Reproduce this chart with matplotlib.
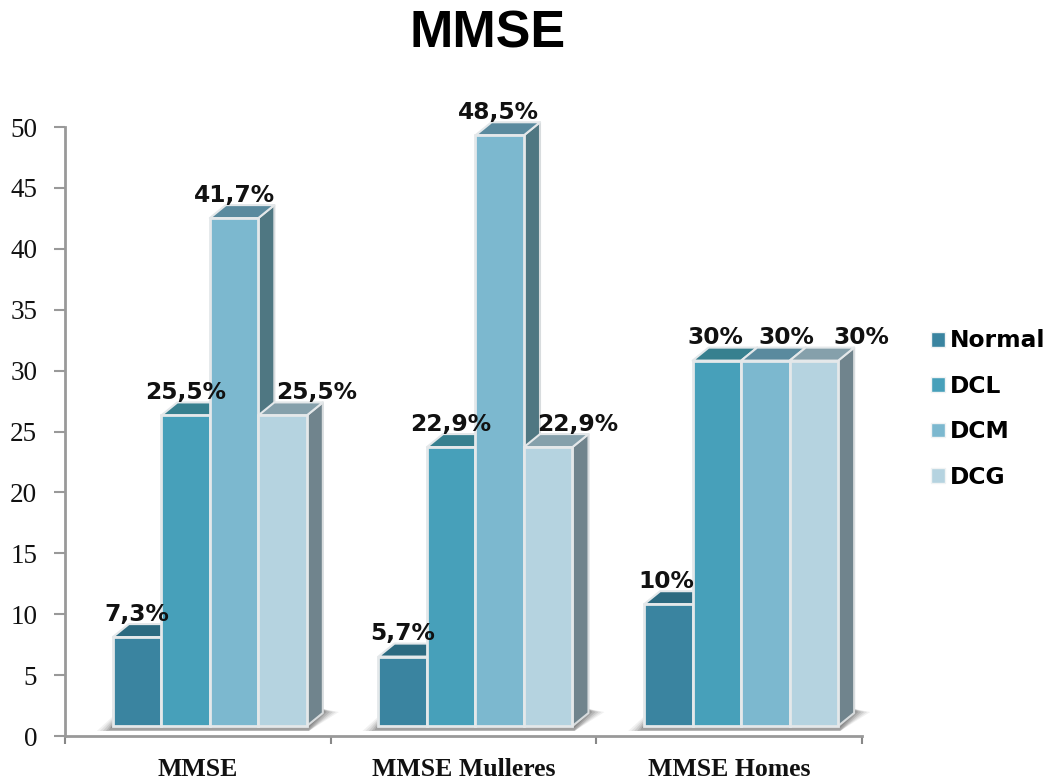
import matplotlib
matplotlib.use("Agg")
import matplotlib.pyplot as plt
from matplotlib.patches import Polygon, Patch

# data
groups = ["MMSE", "MMSE Mulleres", "MMSE Homes"]
series = ["Normal", "DCL", "DCM", "DCG"]
normal = [7.3, 5.7, 10]
dcl = [25.5, 22.9, 30]
dcm = [41.7, 48.5, 30]
dcg = [25.5, 22.9, 30]
normal_labels = ["7,3%", "5,7%", "10%"]
dcl_labels = ["25,5%", "22,9%", "30%"]
dcm_labels = ["41,7%", "48,5%", "30%"]
dcg_labels = ["25,5%", "22,9%", "30%"]

values = [normal, dcl, dcm, dcg]
labels = [normal_labels, dcl_labels, dcm_labels, dcg_labels]

# styles: one per series
front_cols = ["#3A84A0", "#47A0BA", "#7CB8CF", "#B5D3E0"]
top_cols = ["#2C6A80", "#37808F", "#5A8A9E", "#85A0AB"]
side_cols = ["#2A5F72", "#33707F", "#4F7782", "#70848D"]
EDGE = "#E4E8EA"

W, H = 1051, 781
fig = plt.figure(figsize=(W / 100, H / 100), dpi=100)
# axes box in pixels: x 65-862, y 127-736
ax = fig.add_axes([65 / W, 1 - 736 / H, (862 - 65) / W, (736 - 127) / H])
ax.set_xlim(0, 3)
ax.set_ylim(0, 50)

px = 3 / (862 - 65)   # one pixel in x units
py = 50 / (736 - 127)  # one pixel in y units
bar_w = 48.5 * px
dx = 16 * px
dy = 13 * py
base = 10 * py
shift = 12 * px


def poly(pts, **kw):
    ax.add_patch(Polygon(pts, closed=True, clip_on=False, **kw))


# extra label nudges in pixels (labels are not all centred on their bar)
nudge = [[0, 0, -2], [0, -1, -2], [0, -1, 21], [34, 29, 47]]

for g in range(3):
    left = g + 0.5 + shift - 2 * bar_w
    right = left + 4 * bar_w

    # floor shadow, layered to fake the soft edge
    for grow, a in [(16, 0.07), (13, 0.09), (10, 0.12), (7, 0.15), (4, 0.18), (2, 0.22)]:
        low = base - min(grow, 5) * py
        poly([(left - grow * px, low), (right + 2 * px, low),
              (right + dx + grow * px, base + dy + 1 * py),
              (right + dx, base + dy + 4 * py), (left, base + dy + 4 * py),
              (left, base + 0.6 * grow * py)],
             facecolor="#3C3C3C", edgecolor="none", alpha=a, zorder=1)

    for s in range(4):
        v = values[s][g]
        x0 = left + s * bar_w
        x1 = x0 + bar_w
        y1 = base + v
        # side, then top, then front, so the next bar covers this one
        poly([(x1, base), (x1 + dx, base + dy), (x1 + dx, y1 + dy), (x1, y1)],
             facecolor=side_cols[s], edgecolor="#D8DCDE", linewidth=1.5, zorder=2 + s, joinstyle="round")
        poly([(x0, y1), (x0 + dx, y1 + dy), (x1 + dx, y1 + dy), (x1, y1)],
             facecolor=top_cols[s], edgecolor=EDGE, linewidth=1.5, zorder=2 + s, joinstyle="round")
        ax.bar(x0, v, bottom=base, width=bar_w, align="edge", color=front_cols[s],
               edgecolor=EDGE, linewidth=2, zorder=2 + s)
        ax.annotate(labels[s][g], (x0 + bar_w / 2, y1), xytext=(nudge[s][g] * 0.72, 23 * 0.72),
                    textcoords="offset points", ha="center", va="center",
                    fontsize=16.8, fontweight="bold", family="DejaVu Sans",
                    color="#111111", zorder=10, annotation_clip=False)

# axes
for name in ["top", "right"]:
    ax.spines[name].set_visible(False)
for name in ["left", "bottom"]:
    ax.spines[name].set_color("#999999")
    ax.spines[name].set_linewidth(2)
ax.set_yticks(range(0, 51, 5))
ax.set_xticks([0, 1, 2, 3])
ax.set_xticklabels([])
ax.tick_params(axis="y", length=8, width=1.5, color="#999999", pad=12)
ax.tick_params(axis="x", length=6, width=1.5, color="#888888")
for lab in ax.get_yticklabels():
    lab.set_family("Liberation Serif")
    lab.set_fontsize(19.5)
    lab.set_color("#111111")

for g, name in enumerate(groups):
    ax.text(g + 0.5, 1 - (770 - 127) / (736 - 127), name, transform=ax.get_xaxis_transform(),
            ha="center", va="center", family="Liberation Serif", fontweight="bold",
            fontsize=18.5, color="#111111")

fig.text(488 / W, 1 - 34 / H, "MMSE", ha="center", va="center", family="Liberation Sans",
         fontweight="bold", fontsize=37.5, color="black")

handles = [Patch(facecolor=c, edgecolor="#F0F3F4", linewidth=1) for c in front_cols]
fig.legend(handles, series, loc="center left", bbox_to_anchor=(931 / W, 1 - 409 / H),
           frameon=False, handlelength=0.6, handleheight=0.6, handletextpad=0.22,
           labelspacing=0.96, borderpad=0, borderaxespad=0,
           prop={"family": "DejaVu Sans", "weight": "bold", "size": 16.8})

fig.savefig("out.png", dpi=100)
